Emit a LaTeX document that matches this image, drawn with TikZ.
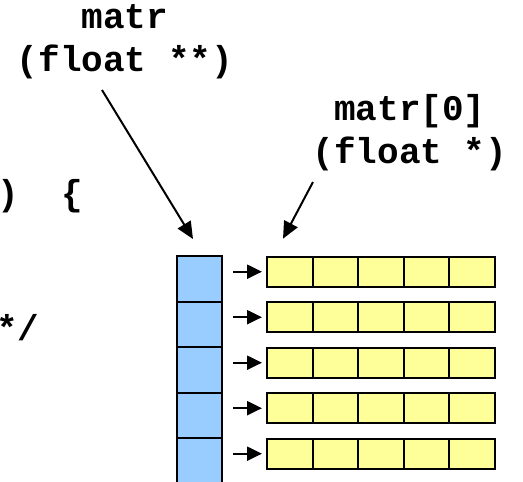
\documentclass[tikz,border=0pt]{standalone}
\usepackage{fontspec}
\setmonofont{Liberation Mono}
\usetikzlibrary{arrows.meta,positioning}
\definecolor{ptrblue}{RGB}{153,204,255}
\definecolor{datayellow}{RGB}{255,255,153}
\tikzset{
  code/.style    = {font=\ttfamily\bfseries\fontsize{36}{43}\selectfont, inner sep=0pt},
  label/.style   = {code, align=center},
  ptrcell/.style = {draw, line width=2pt, fill=ptrblue, rectangle, outer sep=0pt,
                    minimum width=45pt, minimum height=45.5pt},
  datacell/.style= {draw, line width=2pt, fill=datayellow, rectangle, outer sep=0pt,
                    minimum width=45.6pt, minimum height=30pt},
  bigarrow/.style= {-{Triangle[length=17pt,width=15pt]}, line width=2pt},
  rowarrow/.style= {-{Triangle[length=15pt,width=14pt]}, line width=2.2pt},
}

\begin{document}
\begin{tikzpicture}[x=1pt, y=-1pt]
    \useasboundingbox (0,0) rectangle (523,482);
    \clip (0,0) rectangle (523,482);
    % code on the left (cut off by the frame)
    \node [code, anchor=base west] (codeopen) at (-3,205) {)~~\{};
    \node [code, anchor=base west] (codecomment) at (-4,340) {*/};
    % labels
    \node [label, anchor=base] (lblmatr) at (125,71) {matr\\(float **)};
    \node [label, anchor=base] (lblrow) at (410,163) {matr[0]\\(float *)};
    % column of row pointers
    \node [ptrcell] (p1) at (199.5,278.75) {};
    \foreach \i [remember=\i as \prev (initially 1)] in {2,...,5}
        \node [ptrcell, below=0pt of p\prev] (p\i) {};
    % rows of floats
    \foreach \i in {1,...,5} {
        \foreach \j in {1,...,5}
            \node [datacell] (d\i\j) at ({267+45.6*(\j-0.5)}, {271.7+45.5*(\i-1)}) {};
        \draw [rowarrow, shorten <=11pt, shorten >=5pt] (p\i.east |- d\i1.west) -- (d\i1.west);
    }
    % label arrows
    \coordinate (tailmatr) at (102,90);
    \coordinate (tailrow) at (313,182);
    \draw [bigarrow] (tailmatr) -- ([shift={(-6.5,-17)}]p1.north);
    \draw [bigarrow] (tailrow) -- ([shift={(16,-18)}]d11.north west);
\end{tikzpicture}
\end{document}
